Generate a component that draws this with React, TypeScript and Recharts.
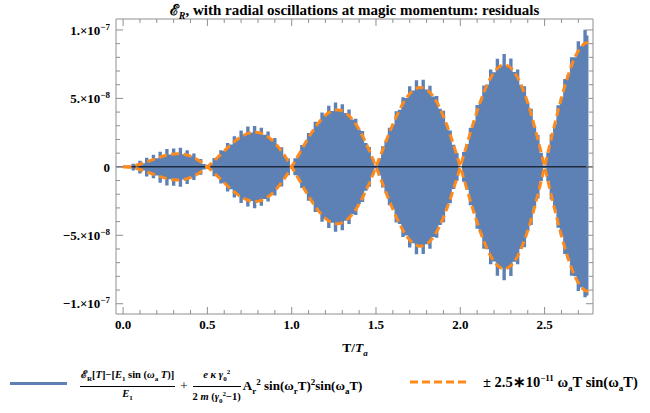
import { Area, ComposedChart, Line, ReferenceLine, XAxis, YAxis } from 'recharts';

// T/Ta sampling step of the residual trace
const STEP = 0.02;

// "+" branch of the dashed curve, in units of 1e-8 (read every 0.02 in T/Ta)
const dashedPlus = [
  0, 0.01, 0.03, 0.07, 0.13, 0.19, 0.27, 0.36, 0.45, 0.54, 0.63, 0.71, 0.79, 0.86, 0.91, 0.94, 0.96, 0.95, 0.92, 0.86, 0.78, 0.67, 0.53, 0.38, 0.2,
  0, -0.22, -0.44, -0.68, -0.92, -1.16, -1.4, -1.63, -1.84, -2.03, -2.2, -2.33, -2.44, -2.5, -2.53, -2.51, -2.45, -2.34, -2.19, -1.99, -1.75, -1.46, -1.14, -0.79, -0.41,
  0, 0.42, 0.85, 1.29, 1.72, 2.13, 2.53, 2.9, 3.23, 3.52, 3.77, 3.96, 4.08, 4.15, 4.15, 4.08, 3.94, 3.73, 3.46, 3.12, 2.72, 2.26, 1.75, 1.2, 0.61,
  0, -0.63, -1.26, -1.9, -2.51, -3.1, -3.66, -4.17, -4.63, -5.02, -5.34, -5.58, -5.73, -5.8, -5.77, -5.65, -5.43, -5.13, -4.73, -4.25, -3.69, -3.05, -2.36, -1.61, -0.82,
  0, 0.84, 1.67, 2.5, 3.31, 4.07, 4.79, 5.44, 6.02, 6.51, 6.91, 7.2, 7.38, 7.44, 7.39, 7.22, 6.93, 6.52, 6.0, 5.38, 4.66, 3.85, 2.96, 2.02, 1.03,
  0, -1.04, -2.09, -3.11, -4.1, -5.04, -5.92, -6.71, -7.41, -8.0, -8.47, -8.82, -9.02, -9.09,
];

// how far the blue residual spikes poke past the dashed envelope (1e-8)
const spikeUp = [
  0, 0.05, 0, 0.15, 0, 0.25, 0, 0.3, 0, 0.35, 0, 0.4, 0, 0.45, 0, 0.4, 0, 0.45, 0, 0.35, 0, 0.3, 0, 0.2, 0,
  0.1, 0, 0.2, 0, 0.3, 0, 0.35, 0, 0.4, 0, 0.45, 0, 0.5, 0, 0.45, 0, 0.4, 0, 0.4, 0, 0.35, 0, 0.3, 0, 0.2,
  0, 0.2, 0, 0.3, 0, 0.35, 0, 0.4, 0, 0.45, 0, 0.5, 0, 0.55, 0, 0.5, 0, 0.45, 0, 0.4, 0, 0.35, 0, 0.25, 0,
  0.1, 0, 0.25, 0, 0.35, 0, 0.4, 0, 0.45, 0, 0.55, 0, 0.6, 0, 0.6, 0, 0.5, 0, 0.45, 0, 0.4, 0, 0.3, 0, 0.2,
  0, 0.25, 0, 0.35, 0, 0.45, 0, 0.5, 0, 0.6, 0, 0.7, 0, 0.8, 0, 0.7, 0, 0.6, 0, 0.5, 0, 0.4, 0, 0.3, 0,
  0.1, 0, 0.3, 0, 0.4, 0, 0.5, 0, 0.6, 0, 0.7, 0, 1.0, 0.5,
];
const spikeDown = [
  0, 0.05, 0, 0.2, 0, 0.3, 0, 0.35, 0, 0.3, 0, 0.45, 0, 0.5, 0, 0.45, 0, 0.5, 0, 0.4, 0, 0.3, 0, 0.2, 0,
  0.1, 0, 0.25, 0, 0.3, 0, 0.4, 0, 0.4, 0, 0.45, 0, 0.45, 0, 0.5, 0, 0.4, 0, 0.35, 0, 0.35, 0, 0.3, 0, 0.2,
  0, 0.2, 0, 0.25, 0, 0.35, 0, 0.4, 0, 0.5, 0, 0.5, 0, 0.6, 0, 0.55, 0, 0.45, 0, 0.4, 0, 0.3, 0, 0.25, 0,
  0.1, 0, 0.25, 0, 0.3, 0, 0.4, 0, 0.5, 0, 0.55, 0, 0.65, 0, 0.6, 0, 0.55, 0, 0.45, 0, 0.35, 0, 0.3, 0, 0.2,
  0, 0.25, 0, 0.3, 0, 0.45, 0, 0.55, 0, 0.6, 0, 0.75, 0, 0.85, 0, 0.75, 0, 0.6, 0, 0.5, 0, 0.4, 0, 0.3, 0,
  0.1, 0, 0.3, 0, 0.35, 0, 0.45, 0, 0.55, 0, 0.6, 0, 0.5, 0.3,
];

const xMajor = [0, 0.5, 1, 1.5, 2, 2.5];
const xMajorLabels = ['0.0', '0.5', '1.0', '1.5', '2.0', '2.5'];
const xMinor = [0.1, 0.2, 0.3, 0.4, 0.6, 0.7, 0.8, 0.9, 1.1, 1.2, 1.3, 1.4, 1.6, 1.7, 1.8, 1.9, 2.1, 2.2, 2.3, 2.4, 2.6, 2.7];
const yMajor = [10, 5, 0, -5, -10];
const yMajorLabels = [['1.×10', '−7'], ['5.×10', '−8'], ['0', ''], ['−5.×10', '−8'], ['−1.×10', '−7']];
const yMinor = [9, 8, 7, 6, 4, 3, 2, 1, -1, -2, -3, -4, -6, -7, -8, -9];

const X_MIN = -0.042;
const X_MAX = 2.787;
const Y_MIN = -10.75;
const Y_MAX = 10.8;
// inward tick lengths, in data units (about 7px major / 4px minor)
const X_TICK = { major: 0.042, minor: 0.024 };
const Y_TICK = { major: 0.51, minor: 0.29 };

const rows = dashedPlus.map((v, i) => ({
  t: +(i * STEP).toFixed(2),
  plus: v,
  minus: -v,
  band: [-Math.abs(v) - spikeDown[i], Math.abs(v) + spikeUp[i]],
}));

const BLUE = '#5E81B5';
const ORANGE = '#FD8A1B';
const FRAME = '#8f8f8f';
const SERIF = '"Liberation Serif", "Times New Roman", serif';
const GAP = 6;
const tickFont = { fontFamily: SERIF, fontWeight: 700, fontSize: 13, fill: '#000' };

function BottomLabel({ x, y, payload }: any) {
  const idx = xMajor.indexOf(payload.value);
  if (idx < 0) return null;
  return (
    <text x={x} y={y} dy="0.72em" textAnchor="middle" style={tickFont}>
      {xMajorLabels[idx]}
    </text>
  );
}

function LeftLabel({ x, y, payload }: any) {
  const idx = yMajor.indexOf(payload.value);
  if (idx < 0) return null;
  const [mant, exp] = yMajorLabels[idx];
  return (
    <text x={x} y={y} dy="0.36em" textAnchor="end" style={tickFont}>
      <tspan>{mant}</tspan>
      {exp ? (
        <tspan dy={-5} fontSize={9}>
          {exp}
        </tspan>
      ) : null}
    </text>
  );
}

function Frac({ num, den }: { num: any; den: any }) {
  return (
    <span style={{ display: 'inline-flex', flexDirection: 'column', alignItems: 'center', fontSize: 10.5, lineHeight: '12px', verticalAlign: 'middle' }}>
      <span style={{ padding: '0 1px 1px' }}>{num}</span>
      <span style={{ borderTop: '1px solid #000', alignSelf: 'stretch', textAlign: 'center', paddingTop: 1 }}>{den}</span>
    </span>
  );
}

const SUB = { fontSize: 7 };

// frame ticks on all four sides, pointing inwards
function frameTicks() {
  const out: any[] = [];
  const xs = [...xMajor.map((v) => [v, X_TICK.major]), ...xMinor.map((v) => [v, X_TICK.minor])];
  const ys = [...yMajor.map((v) => [v, Y_TICK.major]), ...yMinor.map((v) => [v, Y_TICK.minor])];
  xs.forEach(([v, len]) => {
    const l = len === X_TICK.major ? Y_TICK.major : Y_TICK.minor;
    out.push(<ReferenceLine key={`b${v}`} segment={[{ x: v, y: Y_MIN }, { x: v, y: Y_MIN + l }]} stroke={FRAME} />);
    out.push(<ReferenceLine key={`t${v}`} segment={[{ x: v, y: Y_MAX }, { x: v, y: Y_MAX - l }]} stroke={FRAME} />);
  });
  ys.forEach(([v, len]) => {
    const l = len === Y_TICK.major ? X_TICK.major : X_TICK.minor;
    out.push(<ReferenceLine key={`l${v}`} segment={[{ x: X_MIN, y: v }, { x: X_MIN + l, y: v }]} stroke={FRAME} />);
    out.push(<ReferenceLine key={`r${v}`} segment={[{ x: X_MAX, y: v }, { x: X_MAX - l, y: v }]} stroke={FRAME} />);
  });
  return out;
}

export default function App() {
  return (
    <div style={{ position: 'absolute', left: 0, top: 0, width: 650, height: 413, fontFamily: SERIF }}>
      <ComposedChart width={650} height={413} data={rows} margin={{ top: 19, right: 57, bottom: 0, left: 0 }}>
        <XAxis
          dataKey="t"
          type="number"
          domain={[X_MIN, X_MAX]}
          ticks={xMajor}
          interval={0}
          height={99}
          tickSize={0}
          tickMargin={GAP}
          tick={<BottomLabel />}
          axisLine={false}
          tickLine={false}
        />
        <YAxis
          type="number"
          domain={[Y_MIN, Y_MAX]}
          ticks={yMajor}
          interval={0}
          width={116}
          tickSize={0}
          tickMargin={GAP}
          tick={<LeftLabel />}
          axisLine={false}
          tickLine={false}
        />
        <Area dataKey="band" type="step" fill={BLUE} fillOpacity={1} stroke="none" isAnimationActive={false} />
        <ReferenceLine y={0} stroke="#000" strokeWidth={1} />
        <Line dataKey="plus" type="monotone" stroke={ORANGE} strokeWidth={3} strokeDasharray="8 4.5" dot={false} isAnimationActive={false} />
        <Line dataKey="minus" type="monotone" stroke={ORANGE} strokeWidth={3} strokeDasharray="8 4.5" dot={false} isAnimationActive={false} />
        <ReferenceLine x={X_MIN} stroke={FRAME} />
        <ReferenceLine x={X_MAX} stroke={FRAME} />
        <ReferenceLine y={Y_MIN} stroke={FRAME} />
        <ReferenceLine y={Y_MAX} stroke={FRAME} />
        {frameTicks()}
      </ComposedChart>

      <div style={{ position: 'absolute', left: 116, width: 477, top: 0, textAlign: 'center', fontWeight: 700, fontSize: 15, lineHeight: '20px' }}>
        ℰ<sub style={{ fontSize: 10, fontStyle: 'italic' }}>R</sub>, with radial oscillations at magic momentum: residuals
      </div>

      <div style={{ position: 'absolute', left: 300, width: 110, top: 340, textAlign: 'center', fontWeight: 700, fontSize: 13.5 }}>
        T/<i>T</i>
        <sub style={{ fontSize: 9, fontStyle: 'italic' }}>a</sub>
      </div>

      <div style={{ position: 'absolute', left: 10, top: 381.5, width: 57, height: 3, background: BLUE }} />
      <div style={{ position: 'absolute', left: 80, top: 365, whiteSpace: 'nowrap', display: 'flex', alignItems: 'center', fontWeight: 700, fontSize: 13 }}>
        <Frac
          num={
            <span>
              ℰ<sub style={SUB}>R</sub>[<i>T</i>]−[<i>E</i><sub style={SUB}>1</sub> sin (<i>ω</i>
              <sub style={SUB}>a</sub> <i>T</i>)]
            </span>
          }
          den={
            <span>
              <i>E</i>
              <sub style={SUB}>1</sub>
            </span>
          }
        />
        <span style={{ margin: '0 5px', fontWeight: 400 }}>+</span>
        <Frac
          num={
            <span>
              <i>e κ γ</i>
              <sub style={SUB}>0</sub>
              <sup style={SUB}>2</sup>
            </span>
          }
          den={
            <span>
              2 <i>m</i> (<i>γ</i>
              <sub style={SUB}>0</sub>
              <sup style={SUB}>2</sup>−1)
            </span>
          }
        />
        <span style={{ marginLeft: 2 }}>
          A<sub style={{ fontSize: 9 }}>r</sub>
          <sup style={{ fontSize: 9 }}>2</sup> sin(ω<sub style={{ fontSize: 9 }}>r</sub>T)<sup style={{ fontSize: 9 }}>2</sup>sin(ω
          <sub style={{ fontSize: 9 }}>a</sub>T)
        </span>
      </div>

      <svg style={{ position: 'absolute', left: 410, top: 377 }} width={58} height={10}>
        <line x1={0} x2={58} y1={5} y2={5} stroke={ORANGE} strokeWidth={3} strokeDasharray="8 4" />
      </svg>
      <div style={{ position: 'absolute', left: 483, top: 373, whiteSpace: 'nowrap', fontWeight: 700, fontSize: 14.5 }}>
        ± 2.5∗10<sup style={{ fontSize: 9 }}>−11</sup> ω<sub style={{ fontSize: 9 }}>a</sub>T sin(ω<sub style={{ fontSize: 9 }}>a</sub>T)
      </div>
    </div>
  );
}
